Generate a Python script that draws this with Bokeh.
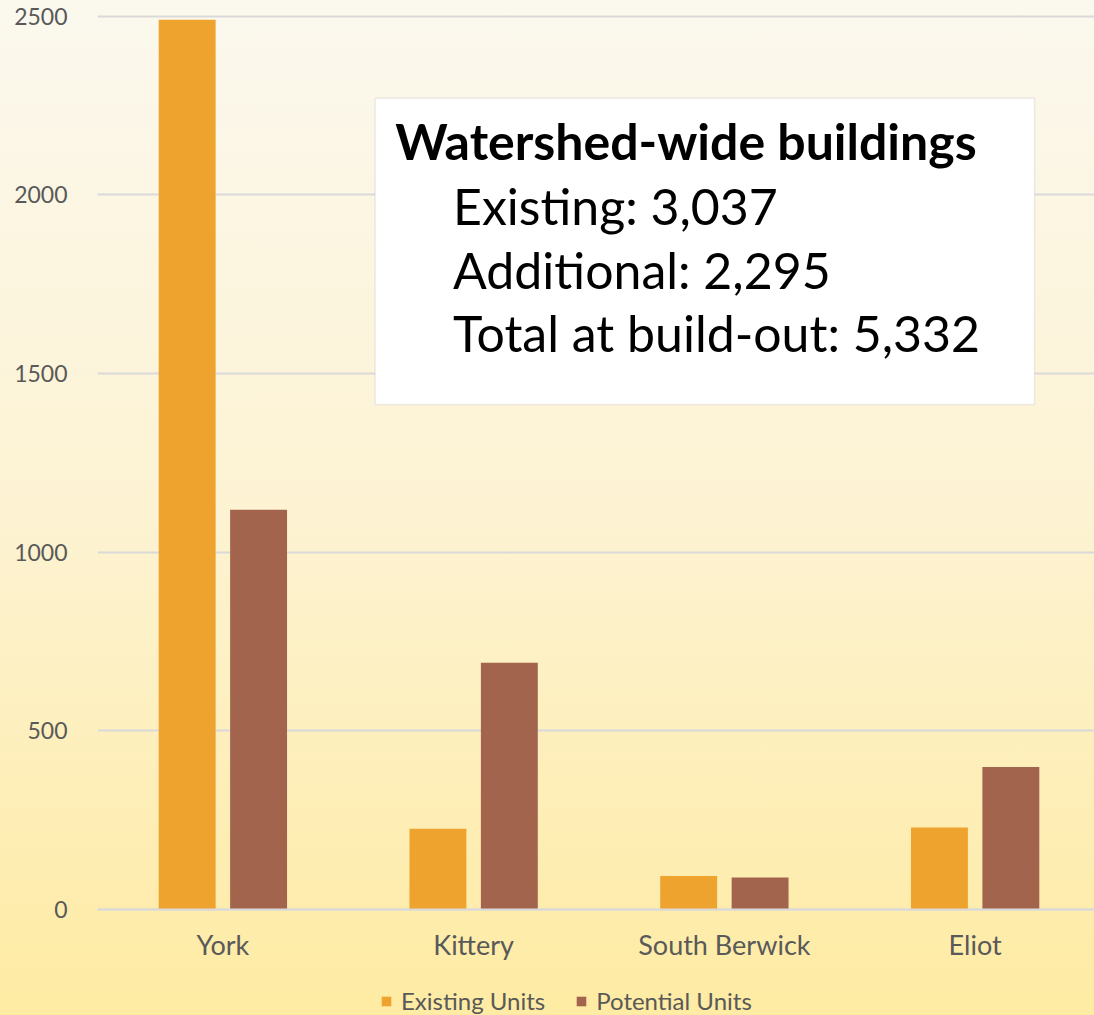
from bokeh.plotting import figure
from bokeh.models import Range1d, FixedTicker, BoxAnnotation, Label, ColumnDataSource, Legend
from bokeh.transform import dodge
from bokeh.embed import file_html
from bokeh.resources import INLINE

towns = ["York", "Kittery", "South Berwick", "Eliot"]
existing_units = [2490, 225, 93, 229]
potential_units = [1118, 690, 89, 398]
y_ticks = [0, 500, 1000, 1500, 2000, 2500]
box_title = "Watershed-wide buildings"
box_lines = ["Existing: 3,037", "Additional: 2,295", "Total at build-out: 5,332"]

FONT = "Lato"
GREY = "#595959"

xpos = list(range(len(towns)))
src = ColumnDataSource(dict(x=xpos, existing=existing_units, potential=potential_units))

p = figure(frame_width=997, frame_height=1001, output_backend="svg", toolbar_location=None,
           x_range=Range1d(-0.5, 3.476), y_range=Range1d(-297.6, 2504.8),
           min_border_left=97, min_border_right=0, min_border_top=14, min_border_bottom=0)
p.background_fill_alpha = 0
p.border_fill_alpha = 0
p.outline_line_color = None
p.styles = {"background": "linear-gradient(to bottom, #FBF8EE 0%, #FDF3D3 50%, #FEEBA4 1001px)"}

r1 = p.vbar(x=dodge("x", -0.1424, range=p.x_range), top="existing", width=0.227, source=src,
            fill_color="#EFA32F", line_color=None)
r2 = p.vbar(x=dodge("x", 0.1424, range=p.x_range), top="potential", width=0.227, source=src,
            fill_color="#A3644E", line_color=None)

p.xgrid.grid_line_color = None
p.ygrid.grid_line_color = "#D9D9D9"
p.ygrid.grid_line_width = 2
p.yaxis.ticker = FixedTicker(ticks=y_ticks)
p.ygrid.ticker = FixedTicker(ticks=y_ticks)
p.yaxis.axis_line_color = None
p.yaxis.major_tick_line_color = None
p.yaxis.minor_tick_line_color = None
p.yaxis.major_label_text_font = FONT
p.yaxis.major_label_text_font_size = "23px"
p.yaxis.major_label_text_color = GREY
p.yaxis.major_label_standoff = 24

p.xaxis.fixed_location = 0
p.xaxis.ticker = FixedTicker(ticks=xpos)
p.xaxis.major_label_overrides = {i: t for i, t in zip(xpos, towns)}
p.xaxis.axis_line_color = "#D9D9D9"
p.xaxis.axis_line_width = 2
p.xaxis.major_tick_line_color = None
p.xaxis.minor_tick_line_color = None
p.xaxis.major_label_text_font = FONT
p.xaxis.major_label_text_font_size = "27px"
p.xaxis.major_label_text_color = GREY
p.xaxis.major_label_standoff = 13

legend = Legend(items=[("Existing Units", [r1]), ("Potential Units", [r2])],
                orientation="horizontal", location=(283, 0))
legend.label_text_font = FONT
legend.label_text_font_size = "24px"
legend.label_text_color = GREY
legend.glyph_width = 12
legend.glyph_height = 12
legend.spacing = 30
legend.padding = 0
legend.margin = 0
legend.label_standoff = 9
legend.background_fill_alpha = 0
legend.border_line_color = None
p.add_layout(legend, "center")

box = BoxAnnotation(left=0.607, right=3.237, bottom=1413, top=2270,
                    fill_color="white", fill_alpha=1, line_color="#BFBFBF", line_width=1.5)
p.add_layout(box)
p.add_layout(Label(x=0.687, y=2150, text=box_title, text_font=FONT, text_font_style="bold",
                   text_font_size="50px", text_color="black", text_baseline="alphabetic"))
for txt, yy in zip(box_lines, [1968, 1790, 1612]):
    p.add_layout(Label(x=0.918, y=yy, text=txt, text_font=FONT, text_font_size="50px",
                       text_color="black", text_baseline="alphabetic"))

open("out.html", "w").write(file_html(p, INLINE))
